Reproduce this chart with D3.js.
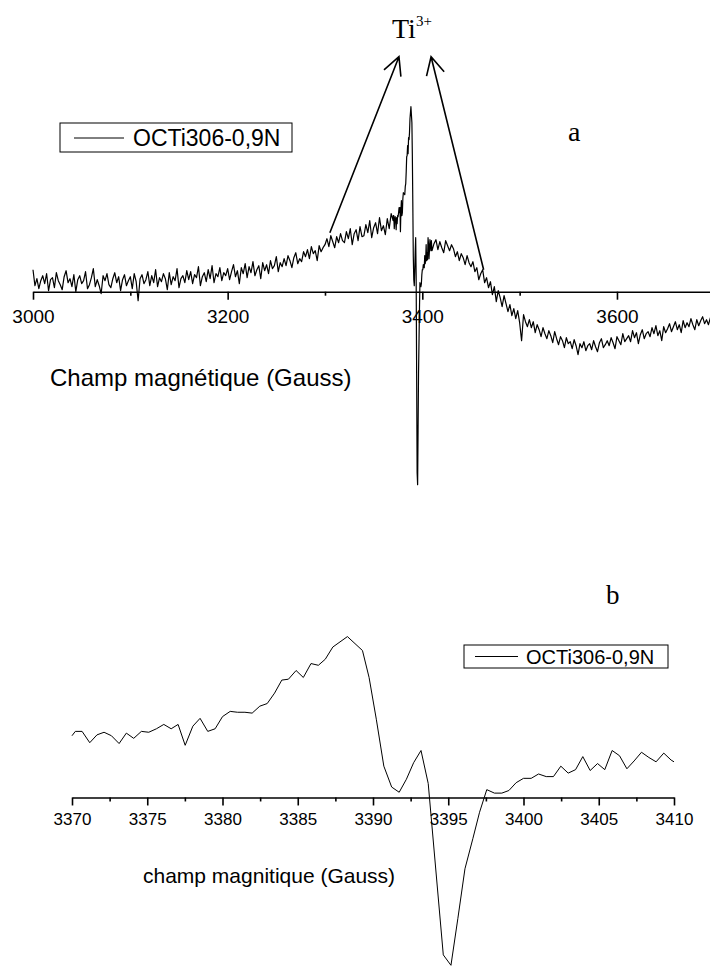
<!DOCTYPE html>
<html>
<head>
<meta charset="utf-8">
<script src="https://cdn.jsdelivr.net/npm/d3@7"></script>
<style>
  html, body { margin: 0; padding: 0; background: #fff; }
  svg { display: block; }
</style>
</head>
<body>
<svg id="chart" width="710" height="966"></svg>
<script>
// ---------------- EPR spectrum of OCTi306-0,9N ----------------
const seriesName = "OCTi306-0,9N";

// Wide sweep, low-field side: 3000 G to 3368 G, one reading every 2 G
const sweepLowStart = 3000;
const sweepStep = 2;
const sweepLow = [
  22, 6, 13, 3, 11, 16, 8, 18, 1, 12,
  14, 4, 19, 11, 7, 2, 15, 21, 9, 13,
  5, 17, 0, 12, 16, 8, 11, 20, 3, 7,
  14, 23, 5, 12, 6, -2, 16, 11, 18, 7,
  4, 13, 19, 9, 15, 1, 12, 17, 6, 11,
  15, 3, 18, 10, -9, 13, 17, 8, 12, 20,
  6, 16, 9, 22, 5, 14, 10, 18, 13, 2,
  19, 7, 15, 11, 23, 4, 13, 16, 9, 21,
  12, 20, 8, 17, 14, 25, 6, 15, 19, 10,
  22, 13, 26, 9, 18, 15, 24, 11, 19, 16,
  23, 12, 20, 27, 15, 21, 8, 24, 18, 28,
  14, 25, 19, 30, 16, 22, 26, 13, 29, 21,
  27, 18, 31, 23, 26, 35, 20, 29, 25, 33,
  26, 36, 31, 24, 34, 39, 28, 33, 30, 40,
  35, 42, 33, 45, 38, 41, 31, 46, 40, 44,
  47, 53, 45, 56, 50, 44, 55, 49, 58, 51,
  49, 60, 53, 63, 47, 58, 62, 51, 65, 55,
  56, 67, 59, 71, 54, 64, 69, 58, 74, 61,
  66, 57, 73, 63, 78
];

// Wide sweep, high-field side: 3412 G to 3696 G, one reading every 2 G
const sweepHighStart = 3412;
const sweepHigh = [
  48, 52, 42, 50, 44, 39, 51, 46, 41, 47,
  43, 35, 40, 31, 38, 34, 27, 36, 29, 25,
  30, 20, 24, 12, 18, 22, 9, 14, 4, 10,
  -3, 5, -10, 1, -6, -15, -4, -12, -20, -13,
  -24, -17, -27, -19, -31, -49, -23, -30, -35, -28,
  -36, -30, -41, -33, -38, -45, -36, -42, -47, -39,
  -44, -51, -40, -47, -53, -45, -49, -56, -46, -52,
  -50, -57, -48, -54, -63, -52, -56, -50, -59, -54,
  -52, -58, -49, -55, -60, -51, -47, -56, -53, -49,
  -54, -46, -51, -57, -45, -49, -53, -42, -50, -47,
  -44, -50, -39, -46, -41, -52, -43, -38, -47, -42,
  -40, -45, -36, -42, -34, -44, -39, -49, -35, -41,
  -37, -32, -40, -35, -30, -38, -33, -41, -29, -36,
  -31, -35, -27, -33, -38, -28, -34, -29, -25, -32,
  -28, -33, -26
];

// Detailed window around the Ti3+ signal (3370 G to 3410 G)
const windowField = [
  3370.00, 3370.22, 3370.67, 3371.18, 3371.66, 3372.13, 3372.62, 3373.13, 3373.61, 3374.10,
  3374.61, 3375.10, 3375.61, 3376.10, 3376.59, 3377.05, 3377.52, 3378.03, 3378.51, 3379.02,
  3379.51, 3380.00, 3380.51, 3381.00, 3381.49, 3381.97, 3382.48, 3382.97, 3383.46, 3383.94,
  3384.38, 3384.89, 3385.37, 3385.88, 3386.37, 3386.83, 3387.33, 3388.30, 3389.30, 3389.74,
  3390.22, 3390.72, 3391.24, 3391.74, 3392.22, 3392.70, 3393.19, 3393.67, 3394.67, 3395.18,
  3395.64, 3396.11, 3396.64, 3397.08, 3397.56, 3398.07, 3398.56, 3399.03, 3399.51, 3400.00,
  3400.51, 3401.00, 3401.51, 3401.99, 3402.48, 3402.97, 3403.46, 3403.94, 3404.43, 3404.92,
  3405.40, 3405.89, 3406.38, 3406.87, 3407.35, 3407.84, 3408.33, 3408.81, 3409.32, 3409.81,
  3410.00
];
const windowSignal = [
  71, 76, 76, 63, 72, 75, 71, 62, 74, 68,
  76, 75, 79, 84, 79, 84, 60, 82, 91, 76,
  79, 93, 99, 98, 98, 97, 105, 108, 120, 135,
  136, 146, 138, 154, 152, 159, 173, 185, 169, 138,
  90, 36, 12, 6, 21, 40, 54, 16, -181, -193,
  -139, -82, -47, -17, 9, 5, 5, 8, 17, 22,
  22, 27, 24, 24, 36, 28, 32, 47, 31, 39,
  32, 54, 48, 33, 42, 52, 46, 41, 51, 43,
  41
];

// Axis ticks
const majorTicksA = [3000, 3200, 3400, 3600];
const minorTicksA = [3100, 3300, 3500];
const majorTicksB = [3370, 3375, 3380, 3385, 3390, 3395, 3400, 3405, 3410];
const minorTicksB = [3372.5, 3377.5, 3382.5, 3387.5, 3392.5, 3397.5, 3402.5, 3407.5];

const axisTitleA = "Champ magnétique (Gauss)";
const axisTitleB = "champ magnitique (Gauss)";

// ---------------- build point lists ----------------
const pointsLow = sweepLow.map((v, i) => ({ f: sweepLowStart + i * sweepStep, v }));
const pointsHigh = sweepHigh.map((v, i) => ({ f: sweepHighStart + i * sweepStep, v }));
const pointsWindow = windowField.map((f, i) => ({ f, v: windowSignal[i] }));
const fullSpectrum = pointsLow.concat(pointsWindow, pointsHigh);

const svg = d3.select("#chart");
const SANS = "'Liberation Sans', Arial, sans-serif";
const SERIF = "'Liberation Serif', 'Times New Roman', serif";

// ---------------- panel a : full sweep ----------------
const xA = d3.scaleLinear().domain([3000, 3700]).range([33, 714.3]);
const yA = d3.scaleLinear().domain([-200, 200]).range([491.7, 91.7]);

const gA = svg.append("g");

gA.append("path")
  .datum(fullSpectrum)
  .attr("fill", "none")
  .attr("stroke", "#000")
  .attr("stroke-width", 1.2)
  .attr("stroke-linejoin", "round")
  .attr("d", d3.line().x(d => xA(d.f)).y(d => yA(d.v)));

const axisA = gA.append("g")
  .attr("transform", `translate(0,${yA(0)})`)
  .call(d3.axisBottom(xA).tickValues(majorTicksA).tickSize(8).tickSizeOuter(0)
    .tickFormat(d3.format("d")));
gA.append("g")
  .attr("transform", `translate(0,${yA(0)})`)
  .call(d3.axisBottom(xA).tickValues(minorTicksA).tickSize(4).tickSizeOuter(0).tickFormat(""))
  .select(".domain").remove();
gA.selectAll(".domain, .tick line").attr("stroke", "#000").attr("stroke-width", 1.6);
axisA.selectAll(".tick text")
  .attr("font-family", SANS).attr("font-size", 19).attr("fill", "#000")
  .attr("dy", "1.05em");

gA.append("text")
  .attr("x", 50).attr("y", 386)
  .attr("font-family", SANS).attr("font-size", 24)
  .text(axisTitleA);

// legend a
gA.append("rect")
  .attr("x", 60).attr("y", 123).attr("width", 232).attr("height", 29)
  .attr("fill", "#fff").attr("stroke", "#000").attr("stroke-width", 1);
gA.append("line")
  .attr("x1", 74).attr("x2", 124).attr("y1", 138).attr("y2", 138)
  .attr("stroke", "#000").attr("stroke-width", 1);
gA.append("text")
  .attr("x", 133).attr("y", 146)
  .attr("font-family", SANS).attr("font-size", 23)
  .text(seriesName);

gA.append("text")
  .attr("x", 568).attr("y", 141)
  .attr("font-family", SERIF).attr("font-size", 28)
  .text("a");

// Ti3+ label with arrows pointing to both wings of the signal
const ti = gA.append("text")
  .attr("x", 392).attr("y", 38)
  .attr("font-family", SERIF).attr("font-size", 28);
ti.append("tspan").text("Ti");
ti.append("tspan").attr("dy", -12).attr("font-size", 15).text("3+");

const arrows = [
  { from: [3305, 59], to: [3376, 235] },
  { from: [3463, 22], to: [3409, 235] }
];
arrows.forEach(a => {
  const x1 = xA(a.from[0]), y1 = yA(a.from[1]);
  const x2 = xA(a.to[0]), y2 = yA(a.to[1]);
  const ang = Math.atan2(y1 - y2, x1 - x2);
  const len = 20, spread = 27 * Math.PI / 180;
  const p1 = [x2 + len * Math.cos(ang + spread), y2 + len * Math.sin(ang + spread)];
  const p2 = [x2 + len * Math.cos(ang - spread), y2 + len * Math.sin(ang - spread)];
  gA.append("path")
    .attr("d", `M${x1},${y1}L${x2},${y2}M${p1[0]},${p1[1]}L${x2},${y2}L${p2[0]},${p2[1]}`)
    .attr("fill", "none").attr("stroke", "#000").attr("stroke-width", 1.6);
});

// ---------------- panel b : zoom on the Ti3+ signal ----------------
const xB = d3.scaleLinear().domain([3370, 3410]).range([72, 674]);
const yB = d3.scaleLinear().domain([-193, 185]).range([965.3, 636.6]);

const gB = svg.append("g");

gB.append("path")
  .datum(pointsWindow)
  .attr("fill", "none")
  .attr("stroke", "#000")
  .attr("stroke-width", 1)
  .attr("stroke-linejoin", "round")
  .attr("d", d3.line().x(d => xB(d.f)).y(d => yB(d.v)));

const axisB = gB.append("g")
  .attr("transform", `translate(0,${yB(0)})`)
  .call(d3.axisBottom(xB).tickValues(majorTicksB).tickSize(8).tickSizeOuter(0)
    .tickFormat(d3.format("d")));
gB.append("g")
  .attr("transform", `translate(0,${yB(0)})`)
  .call(d3.axisBottom(xB).tickValues(minorTicksB).tickSize(4).tickSizeOuter(0).tickFormat(""))
  .select(".domain").remove();
gB.selectAll(".domain, .tick line").attr("stroke", "#000").attr("stroke-width", 1.6);
axisB.selectAll(".tick text")
  .attr("font-family", SANS).attr("font-size", 17).attr("fill", "#000")
  .attr("dy", "0.95em");

gB.append("text")
  .attr("x", 143).attr("y", 883)
  .attr("font-family", SANS).attr("font-size", 21)
  .text(axisTitleB);

// legend b
gB.append("rect")
  .attr("x", 464).attr("y", 645).attr("width", 204).attr("height", 23)
  .attr("fill", "#fff").attr("stroke", "#000").attr("stroke-width", 1);
gB.append("line")
  .attr("x1", 475).attr("x2", 518).attr("y1", 656.5).attr("y2", 656.5)
  .attr("stroke", "#000").attr("stroke-width", 1);
gB.append("text")
  .attr("x", 526).attr("y", 664)
  .attr("font-family", SANS).attr("font-size", 20)
  .text(seriesName);

gB.append("text")
  .attr("x", 606).attr("y", 604)
  .attr("font-family", SERIF).attr("font-size", 27)
  .text("b");
</script>
</body>
</html>
